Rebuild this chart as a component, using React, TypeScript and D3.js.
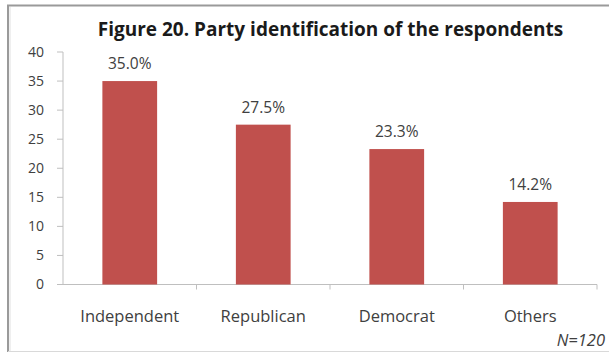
import React from "react";
import * as d3 from "d3";

const categories = ["Independent", "Republican", "Democrat", "Others"];
const values = [35.0, 27.5, 23.3, 14.2];
const yTicks = [0, 5, 10, 15, 20, 25, 30, 35, 40];
const title = "Figure 20. Party identification of the respondents";
const note = "N=120";

const W = 609;
const H = 354;
const FONT = "'Open Sans', 'Noto Sans', sans-serif";

export default function App() {
  const x = d3
    .scaleBand<string>()
    .domain(categories)
    .range([63, 597])
    .paddingInner(0.59)
    .paddingOuter(0.295);
  const y = d3.scaleLinear().domain([0, 40]).range([284.5, 52]);
  const axisColor = "#bfbfbf";
  const textColor = "#404040";
  const step = x.step();

  return (
    <svg
      width={W}
      height={H}
      style={{ position: "absolute", left: 0, top: 0, background: "#fff" }}
    >
      {/* frame */}
      <rect x={0} y={0} width={W} height={H} fill="#fff" />
      <line x1={8} y1={5} x2={8} y2={352} stroke="#9a9a9a" strokeWidth={2} />
      <line x1={7} y1={5.5} x2={W} y2={5.5} stroke="#9a9a9a" strokeWidth={2} />
      <line x1={10} y1={7} x2={10} y2={351} stroke="#e0e0e0" strokeWidth={1} />
      <line x1={8} y1={351.5} x2={W} y2={351.5} stroke="#d9d9d9" strokeWidth={1} />

      <text
        x={330.5}
        y={36}
        textAnchor="middle"
        fontFamily={FONT}
        fontWeight="bold"
        fontSize={19}
        fill="#1a1a1a"
      >
        {title}
      </text>

      {/* y axis */}
      <line x1={63} y1={y(40)} x2={63} y2={y(0)} stroke={axisColor} strokeWidth={1} />
      {yTicks.map((t) => (
        <g key={t}>
          <line x1={57} x2={63} y1={y(t)} y2={y(t)} stroke={axisColor} />
          <text
            x={44}
            y={y(t)}
            dy="0.35em"
            textAnchor="end"
            fontFamily={FONT}
            fontSize={14}
            fill={textColor}
          >
            {t}
          </text>
        </g>
      ))}

      {/* x axis */}
      <line x1={63} x2={597} y1={y(0)} y2={y(0)} stroke={axisColor} />
      {categories.map((c, i) => (
        <line
          key={"tk" + c}
          x1={63 + step * (i + 1)}
          x2={63 + step * (i + 1)}
          y1={y(0)}
          y2={y(0) + 5}
          stroke={axisColor}
        />
      ))}

      {categories.map((c, i) => {
        const bx = x(c) as number;
        const bw = x.bandwidth();
        return (
          <g key={c}>
            <rect
              x={bx}
              y={y(values[i])}
              width={bw}
              height={y(0) - y(values[i])}
              fill="#c0504d"
            />
            <text
              x={bx + bw / 2}
              y={y(values[i]) - 12}
              textAnchor="middle"
              fontFamily={FONT}
              fontSize={15.5}
              fill={textColor}
            >
              {values[i].toFixed(1) + "%"}
            </text>
            <text
              x={bx + bw / 2}
              y={322}
              textAnchor="middle"
              fontFamily={FONT}
              fontSize={16.5}
              fill={textColor}
            >
              {c}
            </text>
          </g>
        );
      })}

      <text
        x={605}
        y={346}
        textAnchor="end"
        fontFamily={FONT}
        fontStyle="italic"
        fontSize={16.5}
        fill={textColor}
      >
        {note}
      </text>
    </svg>
  );
}
